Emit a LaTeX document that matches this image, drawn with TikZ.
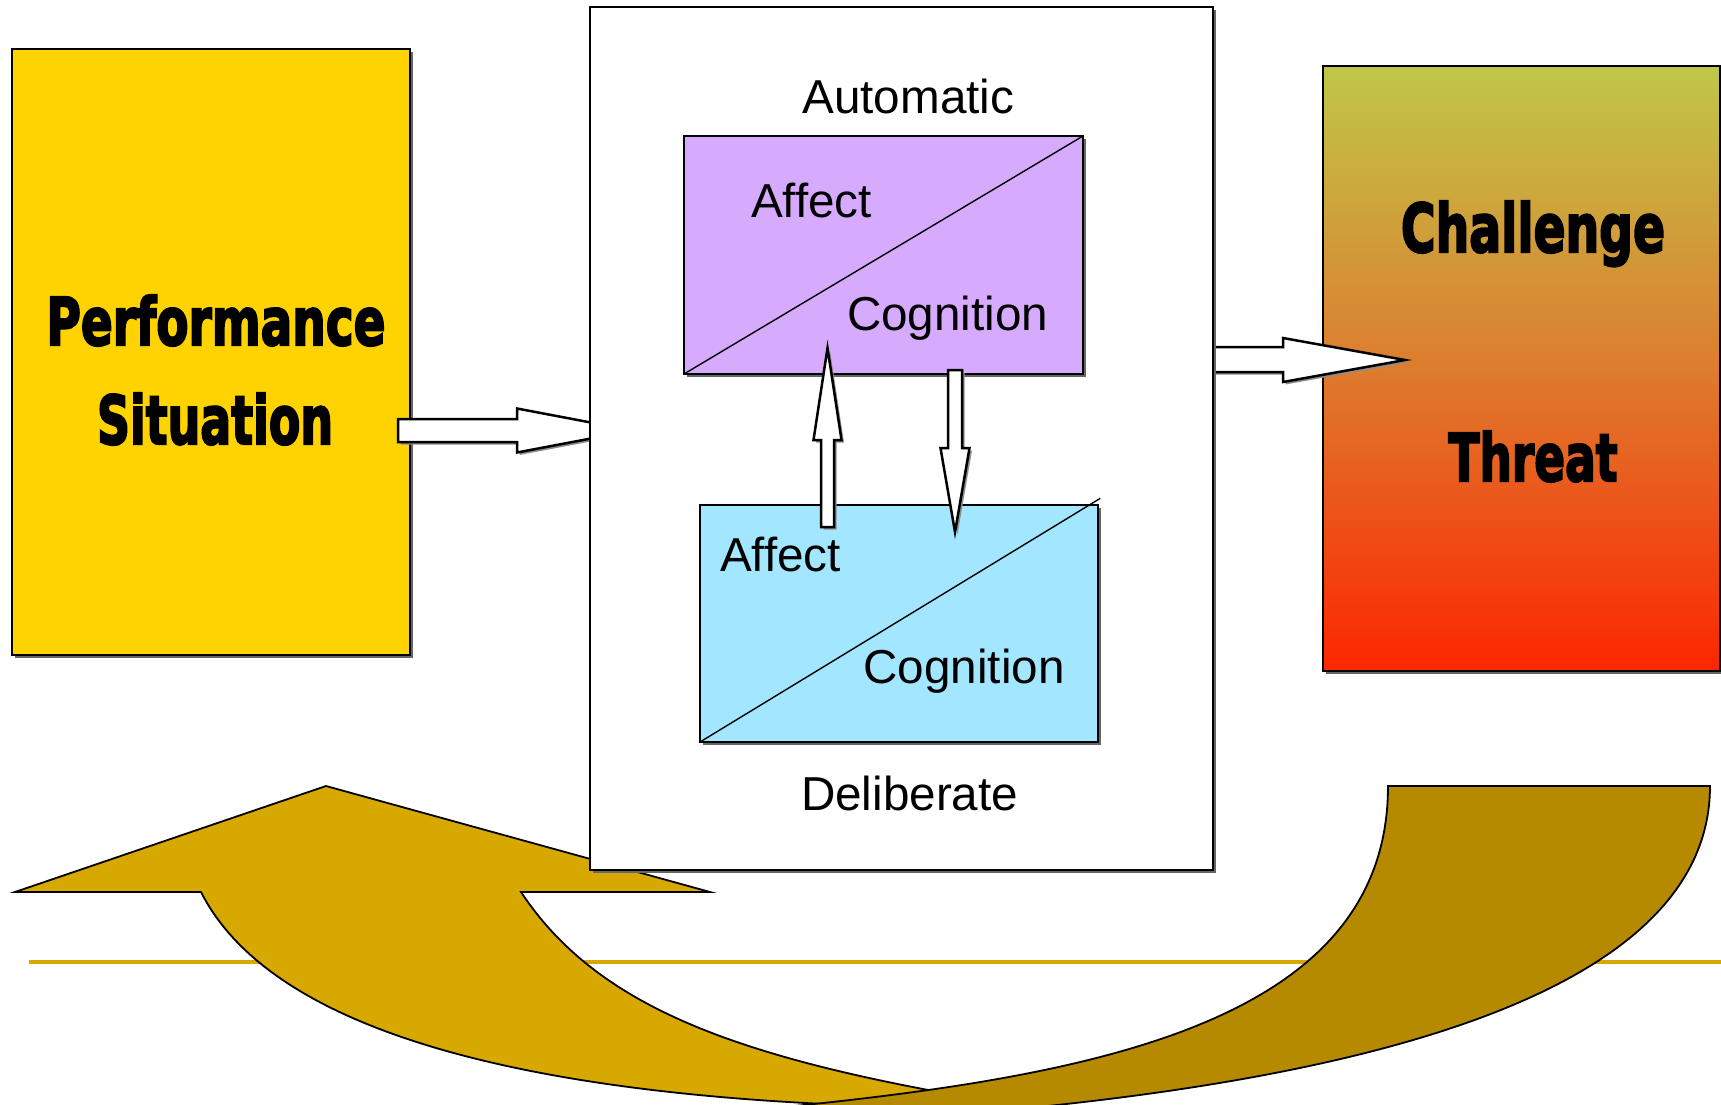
\documentclass[tikz,border=0pt]{standalone}
\usepackage{fontspec}
\setmainfont{Liberation Sans}
\newfontfamily\impactfont{DejaVu Sans Bold}[FakeBold=3.5]
\usetikzlibrary{shadows,calc}
\definecolor{yelbox}{RGB}{255,211,0}
\definecolor{purbox}{RGB}{214,170,252}
\definecolor{cyabox}{RGB}{163,230,255}
\definecolor{goldA}{RGB}{214,168,0}
\definecolor{goldB}{RGB}{181,137,0}
\definecolor{redtop}{RGB}{192,199,72}
\definecolor{redmid}{RGB}{221,124,46}
\definecolor{redbot}{RGB}{253,38,0}
\newcommand\impword[3]{\resizebox{#1}{#2}{\impactfont #3}}
\tikzset{
  box/.style={draw=black, line width=2.7bp, inner sep=0pt, outer sep=0pt,
    drop shadow={shadow xshift=3.2bp, shadow yshift=-3.2bp, fill=black!60, opacity=1}},
  inbox/.style={draw=black, line width=2.5bp, inner sep=0pt, outer sep=0pt,
    drop shadow={shadow xshift=2.8bp, shadow yshift=-2.8bp, fill=black!60, opacity=1}},
  blockarrow/.style={draw=black, fill=white, line width=2.5bp, line join=miter,
    drop shadow={shadow xshift=2.5bp, shadow yshift=-2.5bp, fill=black!45, opacity=1}},
  lbl/.style={font=\fontsize{47.8}{57}\selectfont, inner sep=0pt, outer sep=0pt},
  big/.style={inner sep=0pt, outer sep=0pt, anchor=base},
  curve/.style={draw=black, line width=1.8bp, line join=miter},
  diag/.style={draw=black, line width=1.4bp}
}
\begin{document}
\begin{tikzpicture}[x=1bp, y=-1bp]
\useasboundingbox (0,0) rectangle (1721,1104);
\clip (0,0) rectangle (1721,1104);
\fill[white] (0,0) rectangle (1721,1104);

% horizontal gold line
\coordinate (lineL) at (28.5,962);
\coordinate (lineR) at (1721,962);
\draw[goldA, line width=3.7bp] (lineL) -- (lineR);

% curved return arrow (light part with head)
\path[curve, fill=goldA] (15,892) -- (326,786) -- (710,892) -- (521,892)
  .. controls (603.5,1016.5) and (760,1067) .. (1060,1112)
  -- (1000,1108)
  .. controls (600,1108) and (282,1052) .. (201,892) -- cycle;
% curved return arrow (dark back part)
\path[curve, fill=goldB] (1388,786) -- (1710,786)
  .. controls (1710,998) and (1350,1083) .. (950,1115)
  -- (700,1115)
  .. controls (1050,1083.5) and (1388,1040) .. (1388,786) -- cycle;

% Performance situation
\node[box, fill=yelbox, minimum width=398bp, minimum height=606bp] (perf) at (211,352) {};
\node[big] (perf1) at (216,345) {\impword{339bp}{50bp}{Performance}};
\node[big] (perf2) at (215,444) {\impword{236bp}{51bp}{Situation}};

% arrow 1
\path[blockarrow] (398,419) -- (517,419) -- (517,408.5) -- (633,430.5)
  -- (517,452.5) -- (517,442) -- (398,442) -- cycle;

% Challenge / Threat box
\node[box, top color=redtop, bottom color=redbot, middle color=redmid,
  minimum width=397bp, minimum height=605bp] (resp) at (1521.5,368.5) {};
\node[big] (chal) at (1533,252) {\impword{264bp}{51bp}{Challenge}};
\node[big] (thr) at (1533,481) {\impword{169bp}{50bp}{Threat}};

% arrow 2
\path[blockarrow] (1200,347) -- (1283,347) -- (1283,338) -- (1405,360)
  -- (1283,382) -- (1283,372) -- (1200,372) -- cycle;

% middle box
\node[box, fill=white, minimum width=623bp, minimum height=863bp] (mid) at (901.5,438.5) {};

% automatic box
\node[inbox, fill=purbox, minimum width=399bp, minimum height=238bp] (auto) at (883.5,255) {};
\draw[diag] (auto.south west) -- (auto.north east);
% deliberate box
\node[inbox, fill=cyabox, minimum width=398bp, minimum height=237bp] (delib) at (899,623.5) {};
\draw[diag] (delib.south west) -- ($(delib.north east)+(2.3,-6.7)$);

\node[lbl, anchor=base] (tAuto) at (908.3,113) {Automatic};
\node[lbl, anchor=base west] (tAff1) at (751,217) {Affect};
\node[lbl, anchor=base west] (tCog1) at (847,330) {Cognition};
\node[lbl, anchor=base west] (tAff2) at (720,571) {Affect};
\node[lbl, anchor=base west] (tCog2) at (863.5,683) {Cognition};
\node[lbl, anchor=base] (tDel) at (909.6,810.6) {Deliberate};

% arrow 3 (up)
\path[blockarrow] (821,527) -- (821,440) -- (813.5,440) -- (827.5,348)
  -- (841.5,440) -- (834,440) -- (834,527) -- cycle;
% arrow 4 (down)
\path[blockarrow] (948,370) -- (962,370) -- (962,448) -- (969.5,448)
  -- (955,532) -- (940.5,448) -- (948,448) -- cycle;
\end{tikzpicture}
\end{document}
